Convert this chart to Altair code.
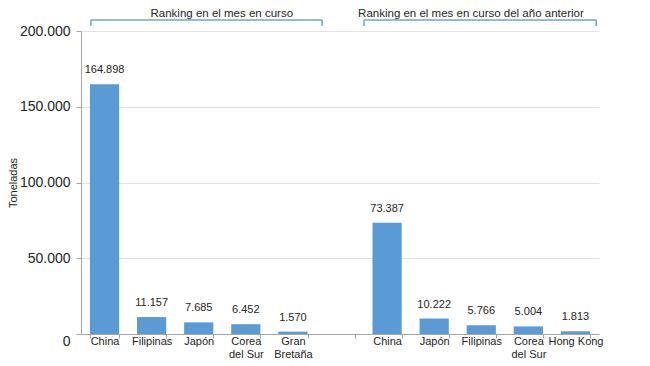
import altair as alt
import pandas as pd

FONT = "Liberation Sans, Arial, sans-serif"

keys = ["a1", "a2", "a3", "a4", "a5", "gap", "b1", "b2", "b3", "b4", "b5"]
labels = ["China", "Filipinas", "Japón", "Corea|del Sur", "Gran|Bretaña", "",
          "China", "Japón", "Filipinas", "Corea|del Sur", "Hong Kong"]
values = [164898, 11157, 7685, 6452, 1570, None, 73387, 10222, 5766, 5004, 1813]

y_ticks = [0, 50000, 100000, 150000, 200000]

group_titles = ["Ranking en el mes en curso", "Ranking en el mes en curso del año anterior"]
# bracket extents in slot units (11 slots across the plot)
bracket_start = [0.21, 6.01]
bracket_end = [5.12, 10.94]
title_pos = [2.99, 8.28]
bracket_top = 207240
bracket_foot = 203290
title_y = 215100

df = pd.DataFrame({"key": keys, "label": labels, "value": values}).dropna()

keys_js = "[" + ",".join(f"'{k}'" for k in keys) + "]"
labels_js = "[" + ",".join(f"'{l}'" for l in labels) + "]"
x_label_expr = (f"indexof({keys_js}, datum.value) < 0 ? '' : "
                f"split({labels_js}[indexof({keys_js}, datum.value)], '|')")
num_expr = "replace(format(datum.value, ','), ',', '.')"

yscale = alt.Scale(domain=[0, 200000], nice=False)
xscale = alt.Scale(domain=keys, paddingInner=0.38, paddingOuter=0.19)

bars = alt.Chart(df).mark_bar(color="#5B9BD5").encode(
    x=alt.X("key:N", scale=xscale, sort=keys,
            axis=alt.Axis(title=None, labelExpr=x_label_expr, labelAngle=0,
                          tickBand="extent", tickSize=4, labelPadding=-3,
                          labelBaseline="top",
                          labelFontSize=11, labelLineHeight=13, labelColor="#262626",
                          domainColor="#A6A6A6", tickColor="#A6A6A6", grid=False)),
    y=alt.Y("value:Q", scale=yscale,
            axis=alt.Axis(values=y_ticks, labelExpr=num_expr, title="Toneladas",
                          titleFontSize=11, titleFontWeight="normal", titleColor="#262626",
                          titlePadding=1, labelFontSize=14, labelColor="#262626",
                          labelPadding=6, tickSize=5,
                          labelBaseline={"condition": {"test": "datum.value == 0", "value": "top"},
                                         "value": "middle"},
                          domainColor="#A6A6A6", tickColor="#A6A6A6",
                          gridColor="#E3E3E3")),
)

bar_text = alt.Chart(df).transform_calculate(
    txt=num_expr
).mark_text(dy=-14, baseline="middle", fontSize=11, color="#262626", font=FONT).encode(
    x=alt.X("key:N", scale=xscale, sort=keys, axis=None),
    y=alt.Y("value:Q", scale=yscale),
    text="txt:N",
)

br_h = pd.DataFrame({"x": bracket_start, "x2": bracket_end, "y": [bracket_top] * 2})
br_v = pd.DataFrame({"x": bracket_start + bracket_end,
                     "y": [bracket_foot] * 4, "y2": [bracket_top] * 4})
tt = pd.DataFrame({"x": title_pos, "y": [title_y] * 2, "t": group_titles})

ax = alt.Scale(domain=[0, 11], nice=False, zero=False)
BRC = "#6FA8B8"

h_rules = alt.Chart(br_h).mark_rule(color=BRC, strokeWidth=1.5).encode(
    x=alt.X("x:Q", scale=ax, axis=None), x2="x2:Q",
    y=alt.Y("y:Q", scale=yscale),
)
v_rules = alt.Chart(br_v).mark_rule(color=BRC, strokeWidth=1.5).encode(
    x=alt.X("x:Q", scale=ax, axis=None),
    y=alt.Y("y:Q", scale=yscale), y2="y2:Q",
)
titles = alt.Chart(tt).mark_text(baseline="top", fontSize=11.5, color="#262626", font=FONT).encode(
    x=alt.X("x:Q", scale=ax, axis=None),
    y=alt.Y("y:Q", scale=yscale),
    text="t:N",
)

chart = alt.layer(bars, bar_text, h_rules, v_rules, titles).resolve_scale(
    x="independent"
).properties(
    width=518, height=303,
    padding={"left": 73, "top": 23, "right": 43, "bottom": 24},
    autosize=alt.AutoSizeParams(type="none"),
).configure_view(stroke=None).configure_axis(
    labelFont=FONT, titleFont=FONT
)

chart.save("out.html", embed_options={"renderer": "svg", "actions": False})
